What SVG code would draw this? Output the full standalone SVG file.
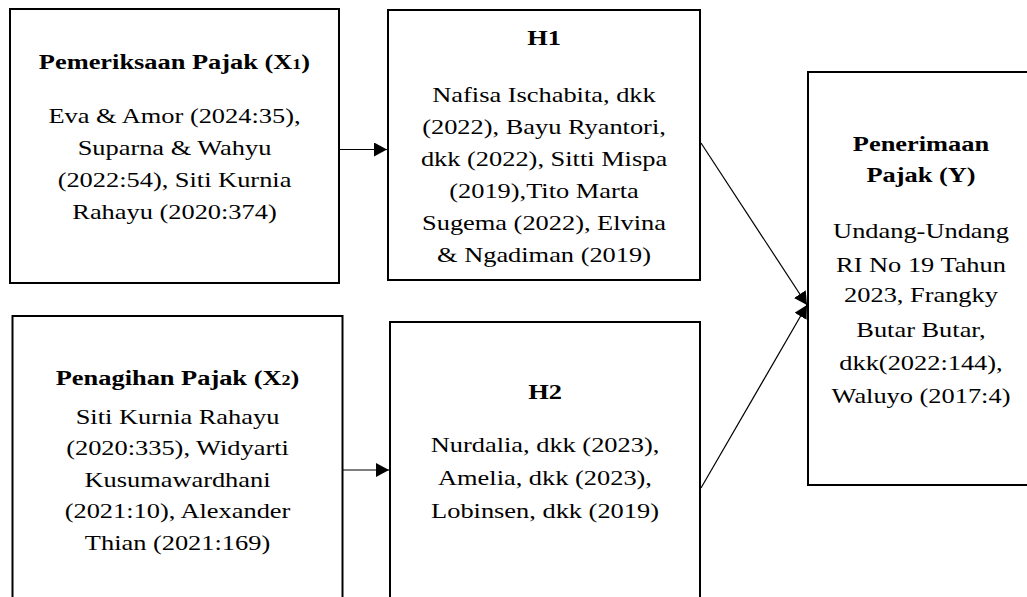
<svg xmlns="http://www.w3.org/2000/svg" width="1027" height="597" viewBox="0 0 1027 597">
<style>
.box{fill:#fff;stroke:#000;stroke-width:2}
.t{font-family:"Liberation Serif","Times New Roman",serif;font-size:22px;fill:#000;text-anchor:middle}
.b{font-weight:bold}
.sub{font-size:15px}
.con{stroke:#000;stroke-width:1.2;fill:none;marker-end:url(#ah)}
</style>
<defs>
<marker id="ah" viewBox="0 0 13 14" refX="13" refY="7" markerWidth="13" markerHeight="14" markerUnits="userSpaceOnUse" orient="auto">
<path d="M0,0 L13,7 L0,14 Z" fill="#000"/>
</marker>
</defs>
<rect width="1027" height="597" fill="#fff"/>
<g id="node-x1">
<rect class="box" x="10" y="9" width="329" height="274"/>
<g transform="translate(174.5,0) scale(1.2,1)">
<text class="t b" x="0" y="69">Pemeriksaan Pajak (X<tspan class="sub">1</tspan>)</text>
<text class="t" x="0" y="123">Eva &amp; Amor (2024:35),</text>
<text class="t" x="0" y="155">Suparna &amp; Wahyu</text>
<text class="t" x="0" y="187">(2022:54), Siti Kurnia</text>
<text class="t" x="0" y="219">Rahayu (2020:374)</text>
</g>
</g>
<g id="node-h1">
<rect class="box" x="388" y="10" width="312" height="270"/>
<g transform="translate(544,0) scale(1.2,1)">
<text class="t b" x="0" y="45">H1</text>
<text class="t" x="0" y="102">Nafisa Ischabita, dkk</text>
<text class="t" x="0" y="134">(2022), Bayu Ryantori,</text>
<text class="t" x="0" y="166">dkk (2022), Sitti Mispa</text>
<text class="t" x="0" y="198">(2019),Tito Marta</text>
<text class="t" x="0" y="230">Sugema (2022), Elvina</text>
<text class="t" x="0" y="262">&amp; Ngadiman (2019)</text>
</g>
</g>
<g id="node-x2">
<rect class="box" x="12.5" y="316" width="330" height="300"/>
<g transform="translate(177.5,0) scale(1.2,1)">
<text class="t b" x="0" y="385">Penagihan Pajak (X<tspan class="sub">2</tspan>)</text>
<text class="t" x="0" y="424">Siti Kurnia Rahayu</text>
<text class="t" x="0" y="455">(2020:335), Widyarti</text>
<text class="t" x="0" y="487">Kusumawardhani</text>
<text class="t" x="0" y="518">(2021:10), Alexander</text>
<text class="t" x="0" y="550">Thian (2021:169)</text>
</g>
</g>
<g id="node-h2">
<rect class="box" x="390" y="322" width="310" height="300"/>
<g transform="translate(545,0) scale(1.2,1)">
<text class="t b" x="0" y="399">H2</text>
<text class="t" x="0" y="452">Nurdalia, dkk (2023),</text>
<text class="t" x="0" y="485">Amelia, dkk (2023),</text>
<text class="t" x="0" y="518">Lobinsen, dkk (2019)</text>
</g>
</g>
<g id="node-y">
<rect class="box" x="808" y="72" width="240" height="413"/>
<g transform="translate(921,0) scale(1.2,1)">
<text class="t b" x="0" y="151">Penerimaan</text>
<text class="t b" x="0" y="182">Pajak (Y)</text>
<text class="t" x="0" y="238">Undang-Undang</text>
<text class="t" x="0" y="272">RI No 19 Tahun</text>
<text class="t" x="0" y="302">2023, Frangky</text>
<text class="t" x="0" y="337">Butar Butar,</text>
<text class="t" x="0" y="370">dkk(2022:144),</text>
<text class="t" x="0" y="403">Waluyo (2017:4)</text>
</g>
</g>
<g id="connectors">
<line class="con" x1="339" y1="149.5" x2="387" y2="149.5"/>
<line class="con" x1="342.5" y1="470" x2="389" y2="470"/>
<line class="con" x1="701" y1="143" x2="807" y2="305"/>
<line class="con" x1="701" y1="488" x2="807" y2="305"/>
</g>
</svg>
